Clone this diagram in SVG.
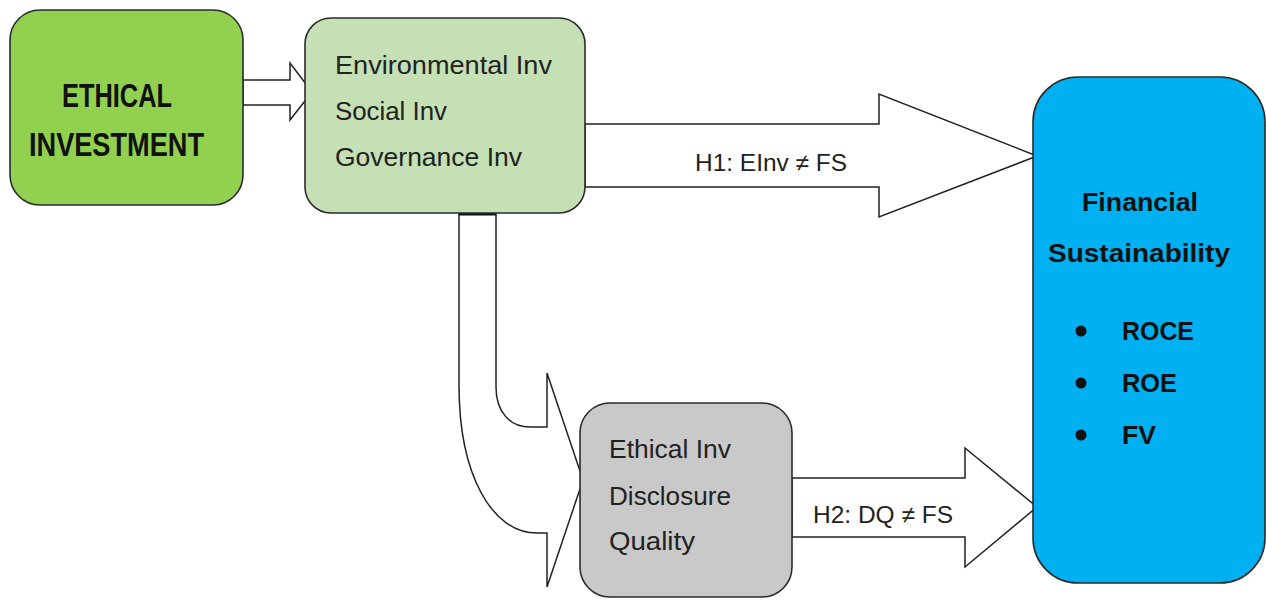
<svg xmlns="http://www.w3.org/2000/svg" width="1266" height="600" viewBox="0 0 1266 600">
<style>
.box{stroke:#2b2b2b;stroke-width:1.6}
.arr{fill:#ffffff;stroke:#222;stroke-width:1.5;stroke-linejoin:miter}
.t{font-family:"Liberation Sans",Arial,sans-serif;fill:#222}
.b{font-family:"Liberation Sans",Arial,sans-serif;font-weight:bold;fill:#111}
</style>
<rect width="1266" height="600" fill="#ffffff"/>
<g id="connectors">
<path class="arr" d="M243 80 L290 80 L290 63 L312 92 L290 120 L290 105 L243 105 Z"/>
<path class="arr" d="M585 124 L879 124 L879 94 L1037 156 L879 217 L879 187 L585 187 Z"/>
<path class="arr" d="M792 478 L965 478 L965 448 L1037 507 L965 567 L965 537 L792 537 Z"/>
<path class="arr" d="M459 213 L459 385 C459 475 492 533 537 533 L547 533 L547 587 L583 480 L547 373 L547 427 L530 427 C510 427 496 412 496 387 L496 213 Z"/>
<line x1="459" y1="214" x2="496" y2="214" stroke="#111" stroke-width="3"/>
<text class="t" x="695" y="171" font-size="24" textLength="152" lengthAdjust="spacingAndGlyphs">H1: EInv ≠ FS</text>
<text class="t" x="813" y="523" font-size="24" textLength="140" lengthAdjust="spacingAndGlyphs">H2: DQ ≠ FS</text>
</g>
<g id="ethical-investment">
<rect class="box" x="10" y="10" width="233" height="195" rx="30" fill="#92d050"/>
<text class="b" x="62" y="107" font-size="33" textLength="110" lengthAdjust="spacingAndGlyphs">ETHICAL</text>
<text class="b" x="29" y="156" font-size="33" textLength="175" lengthAdjust="spacingAndGlyphs">INVESTMENT</text>
</g>
<g id="investment-types">
<rect class="box" x="305" y="18" width="280" height="195" rx="26" fill="#c5e0b4"/>
<text class="t" x="335" y="74" font-size="25" textLength="217" lengthAdjust="spacingAndGlyphs">Environmental Inv</text>
<text class="t" x="335" y="120" font-size="25" textLength="112" lengthAdjust="spacingAndGlyphs">Social Inv</text>
<text class="t" x="335" y="166" font-size="25" textLength="187" lengthAdjust="spacingAndGlyphs">Governance Inv</text>
</g>
<g id="disclosure-quality">
<rect class="box" x="580" y="403" width="212" height="194" rx="30" fill="#c9c9c9"/>
<text class="t" x="609" y="458" font-size="25" textLength="122" lengthAdjust="spacingAndGlyphs">Ethical Inv</text>
<text class="t" x="609" y="505" font-size="25" textLength="122" lengthAdjust="spacingAndGlyphs">Disclosure</text>
<text class="t" x="609" y="550" font-size="25" textLength="86" lengthAdjust="spacingAndGlyphs">Quality</text>
</g>
<g id="financial-sustainability">
<rect class="box" x="1033" y="77" width="232" height="506" rx="45" fill="#00b0f0"/>
<text class="b" x="1082" y="211" font-size="26" textLength="116" lengthAdjust="spacingAndGlyphs">Financial</text>
<text class="b" x="1048" y="262" font-size="26" textLength="182" lengthAdjust="spacingAndGlyphs">Sustainability</text>
<circle cx="1081" cy="331" r="5.5" fill="#111"/>
<circle cx="1081" cy="383" r="5.5" fill="#111"/>
<circle cx="1081" cy="435" r="5.5" fill="#111"/>
<text class="b" x="1122" y="340" font-size="26" textLength="72" lengthAdjust="spacingAndGlyphs">ROCE</text>
<text class="b" x="1122" y="392" font-size="26" textLength="55" lengthAdjust="spacingAndGlyphs">ROE</text>
<text class="b" x="1122" y="444" font-size="26" textLength="34" lengthAdjust="spacingAndGlyphs">FV</text>
</g>
</svg>
